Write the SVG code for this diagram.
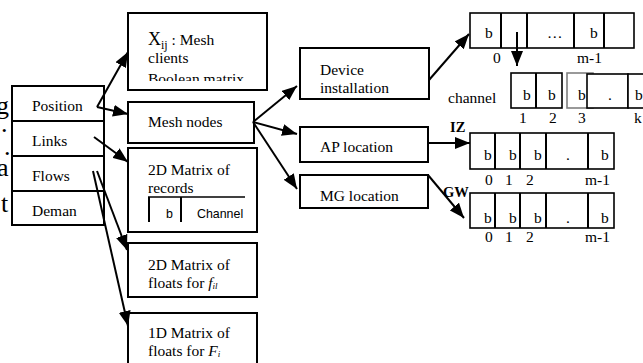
<svg xmlns="http://www.w3.org/2000/svg" width="643" height="363" viewBox="0 0 643 363">
  <style>
    .box { fill: #fff; stroke: #000; stroke-width: 2; }
    .cell { fill: #fff; stroke: #000; stroke-width: 1.6; }
    .t { font-family: "Liberation Serif", "Times New Roman", serif; font-size: 15.5px; fill: #000; }
    .s { font-family: "Liberation Sans", Arial, sans-serif; font-size: 12.4px; fill: #000; }
    .big { font-family: "Liberation Serif", "Times New Roman", serif; font-size: 26px; fill: #000; }
    .bold { font-family: "Liberation Serif", "Times New Roman", serif; font-size: 14.5px; font-weight: bold; fill: #000; }
    .edge { fill: none; stroke: #000; stroke-width: 2; marker-end: url(#arrow); }
    .plain { fill: none; stroke: #000; stroke-width: 2; }
  </style>
  <defs>
    <marker id="arrow" markerUnits="userSpaceOnUse" markerWidth="16" markerHeight="12" refX="15" refY="6" orient="auto">
      <path d="M0,0 L15,6 L0,12 z" fill="#000"/>
    </marker>
    <clipPath id="xclip"><rect x="128" y="13" width="139" height="68"/></clipPath>
    <clipPath id="marginclip"><rect x="0" y="80" width="12" height="150"/></clipPath>
  </defs>
  <rect width="643" height="363" fill="#fff"/>

  <!-- paragraph letters running under the record box -->
  <g id="margin-text" clip-path="url(#marginclip)">
    <text class="big" x="-4" y="114">g</text>
    <text class="big" x="1" y="132">.</text>
    <text class="big" x="4" y="155" font-size="18">.</text>
    <text class="big" x="-3" y="176">a</text>
    <text class="big" x="1" y="212">t</text>
  </g>

  <!-- record: Position / Links / Flows / Deman -->
  <g id="record">
    <rect class="box" x="12" y="86" width="92" height="139"/>
    <line class="plain" x1="12" y1="121" x2="104" y2="121"/>
    <line class="plain" x1="12" y1="156" x2="104" y2="156"/>
    <line class="plain" x1="12" y1="191" x2="104" y2="191"/>
    <text class="t" x="32" y="111">Position</text>
    <text class="t" x="32" y="146">Links</text>
    <text class="t" x="32" y="181">Flows</text>
    <text class="t" x="32" y="216">Deman</text>
  </g>

  <g id="xij">
    <rect class="box" x="128" y="13" width="139" height="77"/>
    <g clip-path="url(#xclip)">
      <text class="t" x="148" y="45"><tspan font-size="18">X</tspan><tspan font-size="12" dy="4">ij</tspan><tspan dy="-4"> : Mesh</tspan></text>
      <text class="t" x="148" y="63">clients</text>
      <text class="t" x="148" y="84">Boolean matrix</text>
    </g>
  </g>

  <g id="mesh-nodes">
    <rect class="box" x="128" y="102" width="126" height="41"/>
    <text class="t" x="148" y="127">Mesh nodes</text>
  </g>

  <g id="records-matrix">
    <rect class="box" x="128" y="148" width="129" height="84"/>
    <text class="t" x="148" y="175">2D Matrix of</text>
    <text class="t" x="148" y="193">records</text>
    <line x1="148" y1="197" x2="245" y2="197" stroke="#000" stroke-width="1.5"/>
    <line x1="149" y1="197" x2="149" y2="222" stroke="#000" stroke-width="2"/>
    <line x1="181" y1="197" x2="181" y2="222" stroke="#000" stroke-width="2"/>
    <text class="s" x="166" y="218">b</text>
    <text class="s" x="197" y="218">Channel</text>
  </g>

  <g id="floats-2d">
    <rect class="box" x="128" y="243" width="129" height="54"/>
    <text class="t" x="148" y="270">2D Matrix of</text>
    <text class="t" x="148" y="288">floats for <tspan font-style="italic">f</tspan><tspan font-style="italic" font-size="9" dy="1">il</tspan></text>
  </g>

  <g id="floats-1d">
    <rect class="box" x="128" y="313" width="129" height="60"/>
    <text class="t" x="148" y="338">1D Matrix of</text>
    <text class="t" x="148" y="356">floats for <tspan font-style="italic">F</tspan><tspan font-style="italic" font-size="9" dy="1">i</tspan></text>
  </g>

  <g id="device-installation">
    <rect class="box" x="300" y="48" width="129" height="51"/>
    <text class="t" x="320" y="75">Device</text>
    <text class="t" x="320" y="92.5">installation</text>
  </g>

  <g id="ap-location">
    <rect class="box" x="300" y="127" width="128" height="35"/>
    <text class="t" x="320" y="152">AP location</text>
  </g>

  <g id="mg-location">
    <rect class="box" x="300" y="175" width="128" height="33"/>
    <text class="t" x="320" y="201">MG location</text>
  </g>

  <!-- device array 0 .. m-1 -->
  <g id="device-array">
    <rect class="cell" x="470" y="13" width="164" height="35"/>
    <line class="plain" x1="501" y1="13" x2="501" y2="48" stroke-width="1.6"/>
    <line class="plain" x1="527" y1="13" x2="527" y2="48" stroke-width="1.6"/>
    <line class="plain" x1="574" y1="13" x2="574" y2="48" stroke-width="1.6"/>
    <line class="plain" x1="604" y1="13" x2="604" y2="48" stroke-width="1.6"/>
    <text class="t" x="485" y="38">b</text>
    <text class="t" x="547" y="38" font-size="11" fill="#444">…</text>
    <text class="t" x="590" y="38">b</text>
    <text class="t" x="493" y="63">0</text>
    <text class="t" x="577" y="63">m-1</text>
  </g>

  <!-- channel array 1 .. k -->
  <g id="channel-array">
    <text class="t" x="448" y="103">channel</text>
    <rect class="cell" x="511" y="73" width="51" height="35"/>
    <line class="plain" x1="536" y1="73" x2="536" y2="108" stroke-width="1.6"/>
    <rect x="567" y="73" width="26" height="35" fill="#fff" stroke="#808080" stroke-width="1.6"/>
    <text class="t" x="578" y="100">b</text>
    <rect class="cell" x="587" y="74" width="41" height="34"/>
    <rect class="cell" x="628" y="74" width="30" height="34"/>
    <text class="t" x="523" y="100">b</text>
    <text class="t" x="548" y="100">b</text>
    <text class="t" x="608" y="100">.</text>
    <text class="t" x="635" y="100">b</text>
    <text class="t" x="519" y="123">1</text>
    <text class="t" x="549" y="123">2</text>
    <text class="t" x="578" y="123">3</text>
    <text class="t" x="634" y="123">k</text>
  </g>

  <!-- IZ array -->
  <g id="iz-array">
    <text class="bold" x="450" y="132">IZ</text>
    <rect class="cell" x="470" y="133" width="144" height="36" stroke-width="2"/>
    <line class="plain" x1="495" y1="133" x2="495" y2="169"/>
    <line class="plain" x1="520" y1="133" x2="520" y2="169"/>
    <line class="plain" x1="546" y1="133" x2="546" y2="169"/>
    <line class="plain" x1="588" y1="133" x2="588" y2="169"/>
    <text class="t" x="484" y="160">b</text>
    <text class="t" x="509" y="160">b</text>
    <text class="t" x="534" y="160">b</text>
    <text class="t" x="566" y="160">.</text>
    <text class="t" x="601" y="160">b</text>
    <text class="t" x="485" y="185">0</text>
    <text class="t" x="505" y="185">1</text>
    <text class="t" x="526" y="185">2</text>
    <text class="t" x="585" y="185">m-1</text>
  </g>

  <!-- GW array -->
  <g id="gw-array">
    <text class="bold" x="443" y="197">GW</text>
    <rect class="cell" x="470" y="193" width="144" height="35" stroke-width="2"/>
    <line class="plain" x1="495" y1="193" x2="495" y2="228"/>
    <line class="plain" x1="520" y1="193" x2="520" y2="228"/>
    <line class="plain" x1="546" y1="193" x2="546" y2="228"/>
    <line class="plain" x1="588" y1="193" x2="588" y2="228"/>
    <text class="t" x="484" y="223">b</text>
    <text class="t" x="509" y="223">b</text>
    <text class="t" x="534" y="223">b</text>
    <text class="t" x="566" y="223">.</text>
    <text class="t" x="601" y="223">b</text>
    <text class="t" x="485" y="242">0</text>
    <text class="t" x="505" y="242">1</text>
    <text class="t" x="526" y="242">2</text>
    <text class="t" x="585" y="242">m-1</text>
  </g>

  <g id="connectors">
    <line class="edge" x1="97" y1="107" x2="128" y2="52"/>
    <line class="edge" x1="97" y1="107" x2="128" y2="114"/>
    <line class="edge" x1="94" y1="137" x2="128" y2="162"/>
    <line class="edge" x1="97" y1="171" x2="127" y2="250"/>
    <line class="edge" x1="93" y1="171" x2="128" y2="326"/>
    <line class="edge" x1="253" y1="122" x2="297" y2="86"/>
    <line class="edge" x1="253" y1="122" x2="297" y2="134"/>
    <line class="edge" x1="253" y1="122" x2="297" y2="189"/>
    <line class="edge" x1="429" y1="80" x2="469" y2="34"/>
    <line class="edge" x1="428" y1="143" x2="470" y2="143"/>
    <line class="edge" x1="428" y1="175" x2="464" y2="218"/>
    <line class="edge" x1="517" y1="32" x2="517" y2="66"/>
  </g>
</svg>
